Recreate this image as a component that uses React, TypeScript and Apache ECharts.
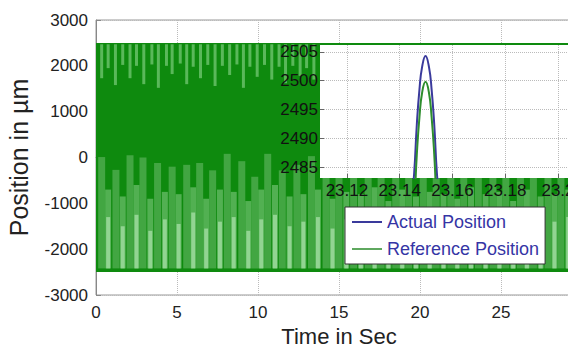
import React, { useEffect, useRef } from "react";
import * as echarts from "echarts";

// ---- data ----
const refBand = [[0, 30, -2500, 2500]]; // reference signal swings between ±2500 µm over the whole run

const topStripeTimes = [0.35, 0.75, 1.2, 1.65, 2.1, 2.5, 2.95, 3.45, 3.85, 4.35, 4.7, 5.2, 5.6, 6.0, 6.45, 6.9, 7.35, 7.8, 8.25, 8.7, 9.1, 9.5, 9.95, 10.4, 10.85, 11.3, 11.7, 12.15, 12.6, 13.0, 13.45];
const topStripeEnds = [1730, 1950, 1580, 2020, 1730, 2000, 1600, 2030, 1520, 2000, 1820, 2050, 1600, 1980, 1730, 2020, 1560, 2000, 1800, 2030, 1520, 1980, 1760, 2020, 1700, 1980, 1620, 2000, 1780, 1950, 1700];

const bottomMidTimes = [0.35, 1.23, 2.1, 2.9, 3.8, 4.7, 5.6, 6.4, 7.2, 8.1, 9.0, 9.8, 10.6, 11.5, 12.4, 13.3, 14.2, 15.0, 15.9, 16.8, 17.6, 18.5, 19.3, 20.2, 21.0, 21.9, 22.7, 23.6, 24.5, 25.3, 26.2, 27.0, 27.9, 28.7, 29.6];
const bottomMidTops = [10, -270, 50, 0, -120, -200, -160, -120, -280, 80, -80, -420, 80, -280, -160, 30, -100, -250, 0, -300, -150, 20, -220, -60, -330, 0, -180, -90, -260, 40, -200, -120, -300, 0, -150];

const bottomLightTimes = [0.75, 1.65, 2.5, 3.35, 4.25, 5.1, 6.0, 6.8, 7.65, 8.5, 9.4, 10.2, 11.05, 11.95, 12.8, 13.7, 14.6, 15.45, 16.35, 17.2, 18.05, 18.9, 19.75, 20.6, 21.45, 22.3, 23.15, 24.05, 24.9, 25.75, 26.6, 27.45, 28.3, 29.15];
const bottomSecondTops = [-700, -850, -600, -900, -750, -800, -650, -900, -700, -750, -950, -700, -600, -850, -800, -700, -900, -750, -800, -650, -950, -700, -850, -750, -800, -900, -650, -800, -750, -950, -700, -850, -800, -700];
const bottomLightTops = [-1300, -1500, -1250, -1600, -1350, -1450, -1200, -1550, -1400, -1300, -1600, -1350, -1250, -1500, -1400, -1300, -1550, -1350, -1450, -1250, -1600, -1300, -1500, -1350, -1400, -1550, -1250, -1450, -1350, -1600, -1300, -1500, -1400, -1300];

const insetTime = [23.1445, 23.1455, 23.1465, 23.1475, 23.1485, 23.1498, 23.1511, 23.1521, 23.1531, 23.1541, 23.1551];
const actualPos = [2479, 2484, 2492.4, 2498.5, 2502.4, 2504.3, 2502.4, 2498.5, 2492.4, 2484, 2479];
const referencePos = [2474, 2478.4, 2487.2, 2493.7, 2497.9, 2499.8, 2497.9, 2493.7, 2487.2, 2478.4, 2474];

const insetXTicks = [23.12, 23.14, 23.16, 23.18, 23.2];
const insetYTicks = [2485, 2490, 2495, 2500, 2505];

const seriesNames = ["Actual Position", "Reference Position"];

const FONT = "'Liberation Sans', Arial, sans-serif";

function bandRender(color: string) {
  return (params: any, api: any) => {
    const p0 = api.coord([api.value(0), api.value(3)]);
    const p1 = api.coord([api.value(1), api.value(2)]);
    return {
      type: "rect",
      shape: { x: p0[0], y: p0[1], width: p1[0] - p0[0], height: p1[1] - p0[1] },
      style: { fill: color },
    };
  };
}

function stripeRender(color: string, w: number) {
  return (params: any, api: any) => {
    const a = api.coord([api.value(0), api.value(1)]);
    const b = api.coord([api.value(0), api.value(2)]);
    const y0 = Math.min(a[1], b[1]);
    return {
      type: "rect",
      shape: { x: a[0] - w / 2, y: y0, width: w, height: Math.abs(b[1] - a[1]) },
      style: { fill: color },
    };
  };
}

const plain = (v: number) => String(v);

export default function App() {
  const ref = useRef<HTMLDivElement>(null);
  useEffect(() => {
    if (!ref.current) return;
    const chart = echarts.init(ref.current, null, { renderer: "svg" });

    const topData = topStripeTimes.map((t, i) => [t, 2470, topStripeEnds[i]]);
    const midData = bottomMidTimes.map((t, i) => [t, -2420, bottomMidTops[i]]);
    const secondData = bottomLightTimes.map((t, i) => [t, -2420, bottomSecondTops[i]]);
    const lightData = bottomLightTimes.map((t, i) => [t, -2420, bottomLightTops[i]]);

    const option: any = {
      animation: false,
      backgroundColor: "#fff",
      textStyle: { fontFamily: FONT },
      grid: [
        {
          left: 96, top: 20, width: 486, bottom: 60, outerBoundsMode: "none", containLabel: false,
          show: true, borderColor: "#999", borderWidth: 1, backgroundColor: "#fff",
        },
        {
          left: 320, top: 45, right: 0, bottom: 177, outerBoundsMode: "none", containLabel: false,
          show: true, borderWidth: 0, backgroundColor: "#fff", z: 10,
        },
      ],
      xAxis: [
        {
          type: "value", gridIndex: 0, min: 0, max: 30, interval: 5,
          name: "Time in Sec", nameLocation: "middle", nameGap: 25,
          nameTextStyle: { fontSize: 22, color: "#222", fontFamily: FONT },
          axisLine: { show: true, lineStyle: { color: "#888" } },
          axisTick: { show: true, inside: true, length: 5, lineStyle: { color: "#888" } },
          axisLabel: { fontSize: 17, color: "#222", margin: 9, fontFamily: FONT, formatter: plain, showMaxLabel: false },
          splitLine: { show: true, lineStyle: { color: "#bbb", type: "dotted" } },
        },
        {
          type: "value", gridIndex: 1, min: 23.1098, max: 23.2038, z: 12,
          axisLine: { show: false },
          axisTick: { show: true, inside: true, length: 4, customValues: insetXTicks, lineStyle: { color: "#666" } },
          axisLabel: {
            fontSize: 17, color: "#111", margin: 4, fontFamily: FONT,
            customValues: insetXTicks, formatter: plain,
          },
          splitLine: { show: true, lineStyle: { color: "#bbb", type: "dotted" } },
        },
      ],
      yAxis: [
        {
          type: "value", gridIndex: 0, min: -3000, max: 3000, interval: 1000,
          name: "Position in µm", nameLocation: "middle", nameGap: 65,
          nameTextStyle: { fontSize: 25, color: "#222", fontFamily: FONT },
          axisLine: { show: true, lineStyle: { color: "#888" } },
          axisTick: { show: true, inside: true, length: 5, lineStyle: { color: "#888" } },
          axisLabel: { fontSize: 17, color: "#222", margin: 8, fontFamily: FONT, formatter: plain },
          splitLine: { show: true, lineStyle: { color: "#bbb", type: "dotted" } },
        },
        {
          type: "value", gridIndex: 1, min: 2483.1, max: 2506.2, z: 12,
          axisLine: { show: false },
          axisTick: { show: true, inside: true, length: 4, customValues: insetYTicks, lineStyle: { color: "#666" } },
          axisLabel: { fontSize: 17, color: "#111", margin: 2, fontFamily: FONT, customValues: insetYTicks, formatter: plain },
          splitLine: { show: true, lineStyle: { color: "#bbb", type: "dotted" } },
        },
      ],
      legend: {
        data: seriesNames,
        orient: "vertical",
        left: 345, top: 207,
        backgroundColor: "#fff",
        borderColor: "#333", borderWidth: 1,
        padding: [6, 6, 6, 7],
        itemGap: 9,
        itemWidth: 30, itemHeight: 2,
        icon: "rect",
        z: 20,
        textStyle: { color: "#3535a5", fontSize: 18, fontFamily: FONT },
      },
      series: [
        {
          type: "custom", xAxisIndex: 0, yAxisIndex: 0, z: 2, silent: true,
          renderItem: bandRender("#0e8a0e"), data: refBand, encode: { x: [0, 1], y: [2, 3] },
        },
        {
          type: "custom", xAxisIndex: 0, yAxisIndex: 0, z: 3, silent: true,
          renderItem: stripeRender("#5ab85a", 3), data: topData, encode: { x: 0, y: [1, 2] },
        },
        {
          type: "custom", xAxisIndex: 0, yAxisIndex: 0, z: 3, silent: true,
          renderItem: stripeRender("#42a642", 7), data: midData, encode: { x: 0, y: [1, 2] },
        },
        {
          type: "custom", xAxisIndex: 0, yAxisIndex: 0, z: 3, silent: true,
          renderItem: stripeRender("#52b052", 6), data: secondData, encode: { x: 0, y: [1, 2] },
        },
        {
          type: "custom", xAxisIndex: 0, yAxisIndex: 0, z: 4, silent: true,
          renderItem: stripeRender("#92d492", 4), data: lightData, encode: { x: 0, y: [1, 2] },
        },
        {
          name: seriesNames[0], type: "line", xAxisIndex: 1, yAxisIndex: 1, z: 13,
          data: insetTime.map((t, i) => [t, actualPos[i]]),
          smooth: true, showSymbol: false, clip: true,
          lineStyle: { color: "#3a3a9c", width: 2 }, itemStyle: { color: "#3a3a9c" },
        },
        {
          name: seriesNames[1], type: "line", xAxisIndex: 1, yAxisIndex: 1, z: 14,
          data: insetTime.map((t, i) => [t, referencePos[i]]),
          smooth: true, showSymbol: false, clip: true,
          lineStyle: { color: "#2e8e2e", width: 2 }, itemStyle: { color: "#5fa85f" },
        },
      ],
    };
    chart.setOption(option);
    return () => chart.dispose();
  }, []);
  return <div ref={ref} style={{ width: 568, height: 355, position: "absolute", left: 0, top: 0 }} />;
}
